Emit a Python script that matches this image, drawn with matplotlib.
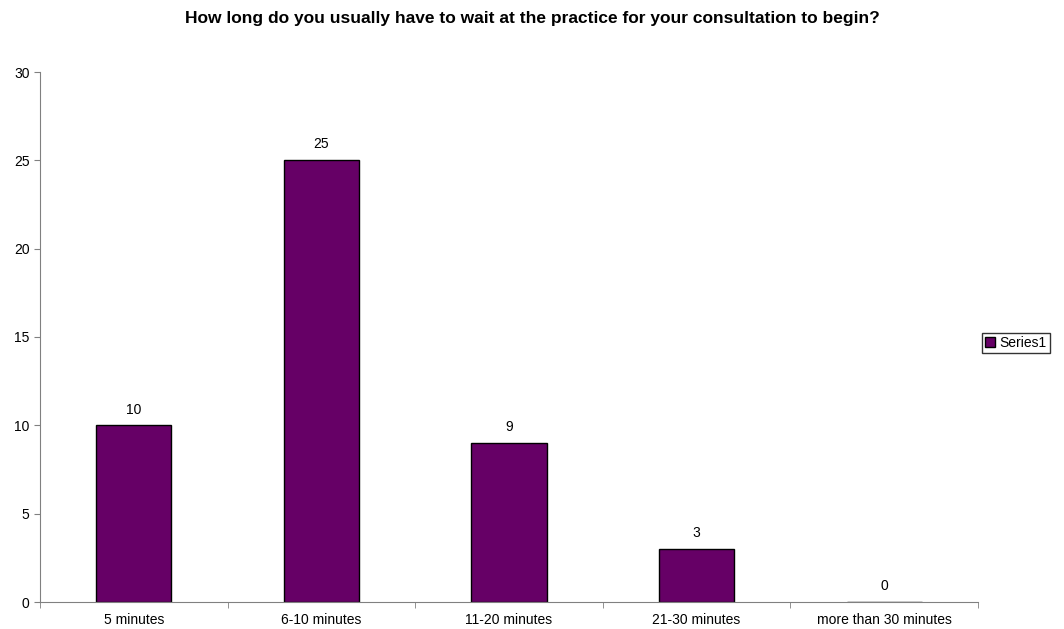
import matplotlib.pyplot as plt
import numpy as np

plt.rcParams['font.family'] = ['Liberation Sans', 'DejaVu Sans']

categories = ["5 minutes", "6-10 minutes", "11-20 minutes", "21-30 minutes", "more than 30 minutes"]
values = [10, 25, 9, 3, 0]

fig = plt.figure(figsize=(10.64, 6.29), dpi=100)
ax = fig.add_axes([40/1064, 27/629, 938/1064, 530/629])

x = np.arange(len(categories))
bars = ax.bar(x, values, width=0.4, color='#660066', edgecolor='black', linewidth=1, label='Series1')

for xi, v in zip(x, values):
    ax.text(xi, v + 0.5, str(v), ha='center', va='bottom', fontsize=10)

ax.set_xlim(-0.5, len(categories) - 0.5)
ax.set_ylim(0, 30)
ax.set_yticks(range(0, 31, 5))
ax.set_xticks(x)
ax.set_xticklabels(categories, fontsize=10)
ax.tick_params(axis='x', length=0, pad=8)
ax.set_xticks(np.arange(-0.5, len(categories)), minor=True)
ax.tick_params(axis='x', which='minor', length=4, color='#808080', direction='out')
ax.tick_params(axis='y', labelsize=10, length=4, color='#808080', direction='out')

for side in ['top', 'right']:
    ax.spines[side].set_visible(False)
for side in ['left', 'bottom']:
    ax.spines[side].set_color('#808080')

fig.suptitle("How long do you usually have to wait at the practice for your consultation to begin?",
             fontsize=12.5, fontweight='bold', y=1 - 18/629, va='center')

leg = fig.legend(loc='center left', bbox_to_anchor=(982/1064, 1 - 343/629), fontsize=10,
                 frameon=True, fancybox=False, edgecolor='black', handlelength=0.7,
                 handleheight=0.7, handletextpad=0.3, borderpad=0.25, borderaxespad=0)
leg.get_frame().set_linewidth(1)

fig.savefig('out.png', dpi=100)
